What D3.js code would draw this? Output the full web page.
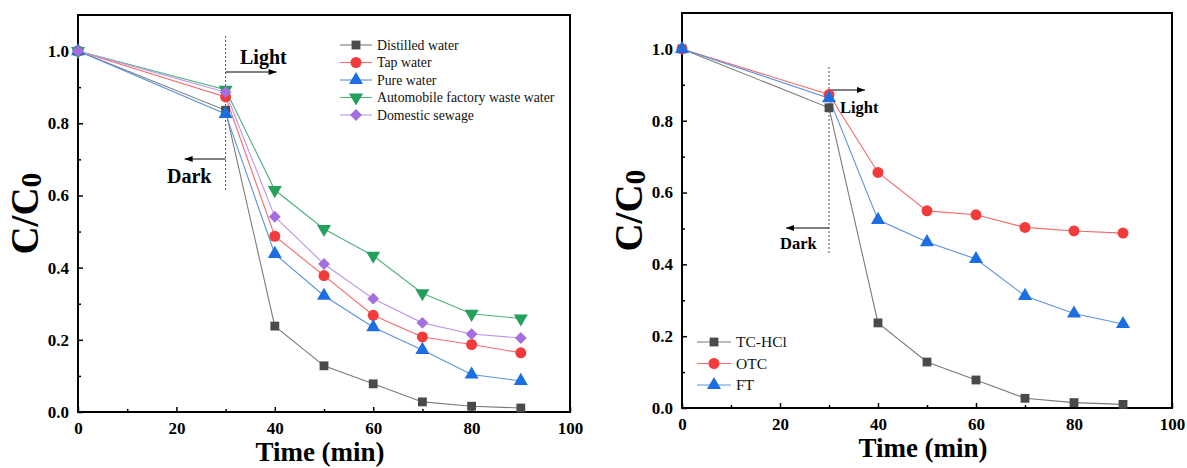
<!DOCTYPE html>
<html>
<head>
<meta charset="utf-8">
<script src="https://cdn.jsdelivr.net/npm/d3@7"></script>
<style>
  body { margin: 0; background: #fff; }
</style>
</head>
<body>
<svg id="chart" width="1187" height="468"></svg>
<script>
const FONT = "'Liberation Serif', 'Times New Roman', serif";

// time points (min)
const times = [0, 30, 40, 50, 60, 70, 80, 90];

// left panel: water matrices
const distilledWater = [1.0, 0.836, 0.238, 0.128, 0.078, 0.028, 0.016, 0.011];
const tapWater = [1.0, 0.873, 0.487, 0.378, 0.268, 0.208, 0.187, 0.164];
const pureWater = [1.0, 0.826, 0.438, 0.322, 0.235, 0.172, 0.104, 0.086];
const autoWasteWater = [1.0, 0.893, 0.615, 0.507, 0.433, 0.329, 0.272, 0.259];
const domesticSewage = [1.0, 0.886, 0.541, 0.41, 0.314, 0.247, 0.216, 0.205];

// right panel: antibiotics
const tcHcl = [1.0, 0.836, 0.237, 0.128, 0.078, 0.027, 0.015, 0.01];
const otc = [1.0, 0.873, 0.656, 0.549, 0.538, 0.503, 0.493, 0.487];
const ft = [1.0, 0.863, 0.524, 0.462, 0.415, 0.312, 0.263, 0.234];

const xTicks = [0, 20, 40, 60, 80, 100];
const xMinor = [10, 30, 50, 70, 90];
const yTicks = [0, 0.2, 0.4, 0.6, 0.8, 1.0];
const yMinor = [0.1, 0.3, 0.5, 0.7, 0.9];

const leftSeries = [
  { name: "Distilled water", values: distilledWater, color: "#4a4a4a", line: "#7a7a7a", shape: "square" },
  { name: "Tap water", values: tapWater, color: "#f23b3b", line: "#f26a6a", shape: "circle" },
  { name: "Pure water", values: pureWater, color: "#1c6fe3", line: "#5a93e0", shape: "triangle" },
  { name: "Automobile factory waste water", values: autoWasteWater, color: "#23a05c", line: "#4fb27a", shape: "triangleDown" },
  { name: "Domestic sewage", values: domesticSewage, color: "#a56ee0", line: "#bf97e8", shape: "diamond" }
];

const rightSeries = [
  { name: "TC-HCl", values: tcHcl, color: "#4a4a4a", line: "#7a7a7a", shape: "square" },
  { name: "OTC", values: otc, color: "#f23b3b", line: "#f26a6a", shape: "circle" },
  { name: "FT", values: ft, color: "#1c6fe3", line: "#5a93e0", shape: "triangle" }
];

const svg = d3.select("#chart");

function markerPath(shape) {
  if (shape === "square") return d3.symbol(d3.symbolSquare, 78)();
  if (shape === "circle") return d3.symbol(d3.symbolCircle, 95)();
  if (shape === "diamond") return d3.symbol(d3.symbolSquare, 70)();
  return d3.symbol(d3.symbolTriangle, 85)();
}

function markerTransform(shape, x, y) {
  if (shape === "triangleDown") return `translate(${x},${y}) rotate(180)`;
  if (shape === "diamond") return `translate(${x},${y}) rotate(45)`;
  return `translate(${x},${y})`;
}

function drawMarker(g, shape, color, x, y) {
  g.append("path")
    .attr("d", markerPath(shape))
    .attr("transform", markerTransform(shape, x, y))
    .attr("fill", color);
}

function styleAxis(a) {
  a.select(".domain").remove();
  a.attr("font-family", FONT);
  a.selectAll("text")
    .attr("font-family", FONT)
    .attr("font-size", 17)
    .attr("font-weight", "bold")
    .attr("fill", "#000");
  a.selectAll("line").attr("stroke-width", 1.5);
}

function drawPanel(opts) {
  const { left, right, top, bottom, series } = opts;
  const x = d3.scaleLinear().domain([0, 100]).range([left, right]);
  const y = d3.scaleLinear().domain([0, 1.1]).range([bottom, top]);
  const g = svg.append("g").attr("font-family", FONT);

  // axes with inward ticks
  g.append("g")
    .attr("transform", `translate(0,${bottom})`)
    .call(d3.axisBottom(x).tickValues(xTicks).tickSize(-5).tickPadding(10).tickFormat(d3.format("d")))
    .call(styleAxis);
  g.append("g")
    .attr("transform", `translate(0,${bottom})`)
    .call(d3.axisBottom(x).tickValues(xMinor).tickSize(-3).tickFormat(""))
    .call(styleAxis);
  g.append("g")
    .attr("transform", `translate(${left},0)`)
    .call(d3.axisLeft(y).tickValues(yTicks).tickSize(-5).tickPadding(9).tickFormat(d3.format(".1f")))
    .call(styleAxis);
  g.append("g")
    .attr("transform", `translate(${left},0)`)
    .call(d3.axisLeft(y).tickValues(yMinor).tickSize(-3).tickFormat(""))
    .call(styleAxis);

  // frame
  g.append("rect")
    .attr("x", left).attr("y", top)
    .attr("width", right - left).attr("height", bottom - top)
    .attr("fill", "none").attr("stroke", "#000").attr("stroke-width", 2);

  // axis titles
  g.append("text")
    .attr("x", (left + right) / 2 - 4).attr("y", bottom + 49)
    .attr("text-anchor", "middle")
    .attr("font-size", 27).attr("font-weight", "bold")
    .text("Time (min)");
  const yt = g.append("text")
    .attr("transform", `translate(${left - 40},${(top + bottom) / 2}) rotate(-90)`)
    .attr("text-anchor", "middle")
    .attr("font-size", 39).attr("font-weight", "bold");
  yt.append("tspan").text("C/C");
  yt.append("tspan").attr("font-size", 30).attr("dy", 3).text("0");

  // dark / light divider
  const xd = x(30);
  g.append("line")
    .attr("x1", xd).attr("x2", xd)
    .attr("y1", opts.divTop).attr("y2", opts.divBottom)
    .attr("stroke", "#555").attr("stroke-width", 1)
    .attr("stroke-dasharray", "2,2");

  const arrow = (x1, x2, yy) => {
    g.append("line")
      .attr("x1", x1).attr("x2", x2).attr("y1", yy).attr("y2", yy)
      .attr("stroke", "#000").attr("stroke-width", 1);
    const dir = x2 > x1 ? 1 : -1;
    g.append("path")
      .attr("d", `M${x2},${yy} L${x2 - dir * 8},${yy - 3} L${x2 - dir * 8},${yy + 3} Z`)
      .attr("fill", "#000");
  };
  arrow(xd, xd + opts.lightArrow, opts.lightY);
  arrow(xd, xd - opts.darkArrow, opts.darkY);

  g.append("text")
    .attr("x", opts.lightText[0]).attr("y", opts.lightText[1])
    .attr("font-size", opts.annoSize).attr("font-weight", "bold")
    .text("Light");
  g.append("text")
    .attr("x", opts.darkText[0]).attr("y", opts.darkText[1])
    .attr("font-size", opts.annoSize).attr("font-weight", "bold")
    .text("Dark");

  // series lines and markers
  const line = d3.line().x(d => x(d[0])).y(d => y(d[1]));
  series.forEach(s => {
    const pts = times.map((t, i) => [t, s.values[i]]);
    g.append("path")
      .attr("d", line(pts))
      .attr("fill", "none").attr("stroke", s.line).attr("stroke-width", 1.1);
  });
  series.forEach(s => {
    times.forEach((t, i) => drawMarker(g, s.shape, s.color, x(t), y(s.values[i])));
  });

  // legend
  const lg = g.append("g");
  series.forEach((s, i) => {
    const ly = opts.legendY + i * opts.legendStep;
    const lx = opts.legendX;
    lg.append("line")
      .attr("x1", lx).attr("x2", lx + opts.legendLine)
      .attr("y1", ly).attr("y2", ly)
      .attr("stroke", s.line).attr("stroke-width", 1.1);
    drawMarker(lg, s.shape, s.color, lx + opts.legendLine / 2, ly);
    lg.append("text")
      .attr("x", lx + opts.legendLine + 5).attr("y", ly + opts.legendSize * 0.33)
      .attr("font-size", opts.legendSize).attr("fill", "#111")
      .text(s.name);
  });
}

drawPanel({
  left: 78, right: 570, top: 15, bottom: 412, series: leftSeries,
  divTop: 36, divBottom: 192,
  lightArrow: 51, lightY: 72, darkArrow: 41, darkY: 159,
  lightText: [240, 64], darkText: [167, 183], annoSize: 20,
  legendX: 340, legendY: 45, legendStep: 17.5, legendLine: 32, legendSize: 13.8
});

drawPanel({
  left: 682, right: 1172, top: 13, bottom: 408, series: rightSeries,
  divTop: 67, divBottom: 254,
  lightArrow: 36, lightY: 90, darkArrow: 43, darkY: 228,
  lightText: [840, 113], darkText: [780, 249], annoSize: 16.5,
  legendX: 697, legendY: 342, legendStep: 21.5, legendLine: 34, legendSize: 15.5
});
</script>
</body>
</html>
